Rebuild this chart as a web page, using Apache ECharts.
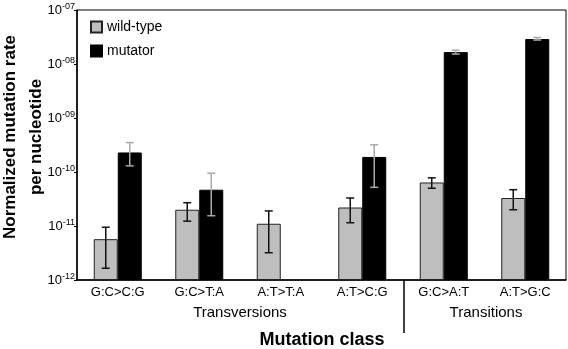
<!DOCTYPE html>
<html>
<head>
<meta charset="utf-8">
<script src="https://cdn.jsdelivr.net/npm/echarts@6/dist/echarts.min.js"></script>
<style>
  html, body { margin: 0; padding: 0; background: #fff; }
  #chart { width: 568px; height: 349px; }
</style>
</head>
<body>
<div id="chart"></div>
<script>
const categories = ['G:C>C:G', 'G:C>T:A', 'A:T>T:A', 'A:T>C:G', 'G:C>A:T', 'A:T>G:C'];

// wild-type: mean, lower and upper error
const wildType = [5.7e-12, 2.0e-11, 1.1e-11, 2.2e-11, 6.4e-11, 3.3e-11];
const wildLow = [1.65e-12, 1.23e-11, 3.2e-12, 1.15e-11, 5.0e-11, 2.0e-11];
const wildHigh = [9.5e-12, 2.7e-11, 1.9e-11, 3.3e-11, 7.8e-11, 4.7e-11];

// mutator (no value for A:T>T:A)
const mutator = [2.3e-10, 4.7e-11, null, 1.9e-10, 1.66e-8, 2.9e-8];
const mutLow = [1.3e-10, 1.55e-11, null, 5.2e-11, 1.53e-8, 2.78e-8];
const mutHigh = [3.5e-10, 9.5e-11, null, 3.2e-10, 1.8e-8, 3.1e-8];

const yTicks = ['-12', '-11', '-10', '-09', '-08', '-07'];

const FONT = 'Liberation Sans, Arial, sans-serif';
const chart = echarts.init(document.getElementById('chart'));

function errData(low, high) {
  const out = [];
  for (let i = 0; i < categories.length; i++) {
    if (low[i] != null) out.push([i, low[i], high[i]]);
  }
  return out;
}

function errRender(offset, color) {
  return function (params, api) {
    const lo = api.coord([api.value(0), api.value(1)]);
    const hi = api.coord([api.value(0), api.value(2)]);
    const x = lo[0] + offset;
    const cap = 4;
    const style = { stroke: color, lineWidth: 1.5 };
    return {
      type: 'group',
      children: [
        { type: 'line', shape: { x1: x, y1: lo[1], x2: x, y2: hi[1] }, style: style },
        { type: 'line', shape: { x1: x - cap, y1: lo[1], x2: x + cap, y2: lo[1] }, style: style },
        { type: 'line', shape: { x1: x - cap, y1: hi[1], x2: x + cap, y2: hi[1] }, style: style }
      ]
    };
  };
}

const option = {
  animation: false,
  textStyle: { fontFamily: FONT },
  grid: {
    left: 77, right: 2, top: 10, bottom: 69,
    show: true, borderColor: '#000', borderWidth: 1
  },
  legend: {
    left: 85, top: 15, orient: 'vertical',
    itemWidth: 11, itemHeight: 11, itemGap: 10,
    icon: 'rect',
    textStyle: { fontSize: 14, color: '#000', fontFamily: FONT },
    data: ['wild-type', 'mutator']
  },
  xAxis: {
    type: 'category',
    data: categories,
    axisLine: { lineStyle: { color: '#000', width: 1.5 } },
    axisTick: { length: 4, lineStyle: { color: '#000', width: 1.5 } },
    axisLabel: { color: '#000', fontSize: 13, margin: 6, fontFamily: FONT }
  },
  yAxis: {
    type: 'log',
    logBase: 10,
    min: 1e-12,
    max: 1e-7,
    startValue: 1e-12,
    splitLine: { show: false },
    axisLine: { show: true, lineStyle: { color: '#000', width: 1.5 } },
    axisTick: { show: true, length: 3, lineStyle: { color: '#000' } },
    axisLabel: {
      margin: 2,
      formatter: function (v) {
        const e = Math.round(Math.log10(v));
        const label = yTicks[e + 12];
        return '{b|10}{s|' + label + '}';
      },
      rich: {
        b: { fontSize: 13, color: '#000', fontFamily: FONT, lineHeight: 15 },
        s: { fontSize: 9, color: '#000', fontFamily: FONT, verticalAlign: 'top', lineHeight: 15, padding: [0, 0, 7, 0] }
      }
    }
  },
  series: [
    {
      name: 'wild-type',
      type: 'bar',
      data: wildType,
      barWidth: 24,
      barGap: '0%',
      itemStyle: { color: '#bebebe', borderColor: '#222', borderWidth: 1 }
    },
    {
      name: 'mutator',
      type: 'bar',
      data: mutator,
      barWidth: 24,
      barGap: '0%',
      itemStyle: { color: '#000', borderColor: '#000', borderWidth: 1 }
    },
    {
      type: 'custom',
      data: errData(wildLow, wildHigh),
      encode: { x: 0, y: [1, 2] },
      renderItem: errRender(-12, '#111'),
      z: 5
    },
    {
      type: 'custom',
      data: errData(mutLow, mutHigh),
      encode: { x: 0, y: [1, 2] },
      renderItem: errRender(12, '#aaa'),
      z: 5
    }
  ],
  graphic: [
    {
      type: 'text', rotation: Math.PI / 2,
      x: 23, y: 137,
      style: {
        text: 'Normalized mutation rate\nper nucleotide',
        font: 'bold 17px ' + FONT, fill: '#000',
        align: 'center', verticalAlign: 'middle', lineHeight: 26
      }
    },
    {
      type: 'text', x: 240, y: 313,
      style: { text: 'Transversions', font: '15px ' + FONT, fill: '#000', align: 'center', verticalAlign: 'middle' }
    },
    {
      type: 'text', x: 486, y: 313,
      style: { text: 'Transitions', font: '15px ' + FONT, fill: '#000', align: 'center', verticalAlign: 'middle' }
    },
    {
      type: 'text', x: 322, y: 340,
      style: { text: 'Mutation class', font: 'bold 18px ' + FONT, fill: '#000', align: 'center', verticalAlign: 'middle' }
    },
    {
      type: 'line', shape: { x1: 404, y1: 280, x2: 404, y2: 333 },
      style: { stroke: '#000', lineWidth: 1.5 }
    }
  ]
};

chart.setOption(option);
</script>
</body>
</html>
